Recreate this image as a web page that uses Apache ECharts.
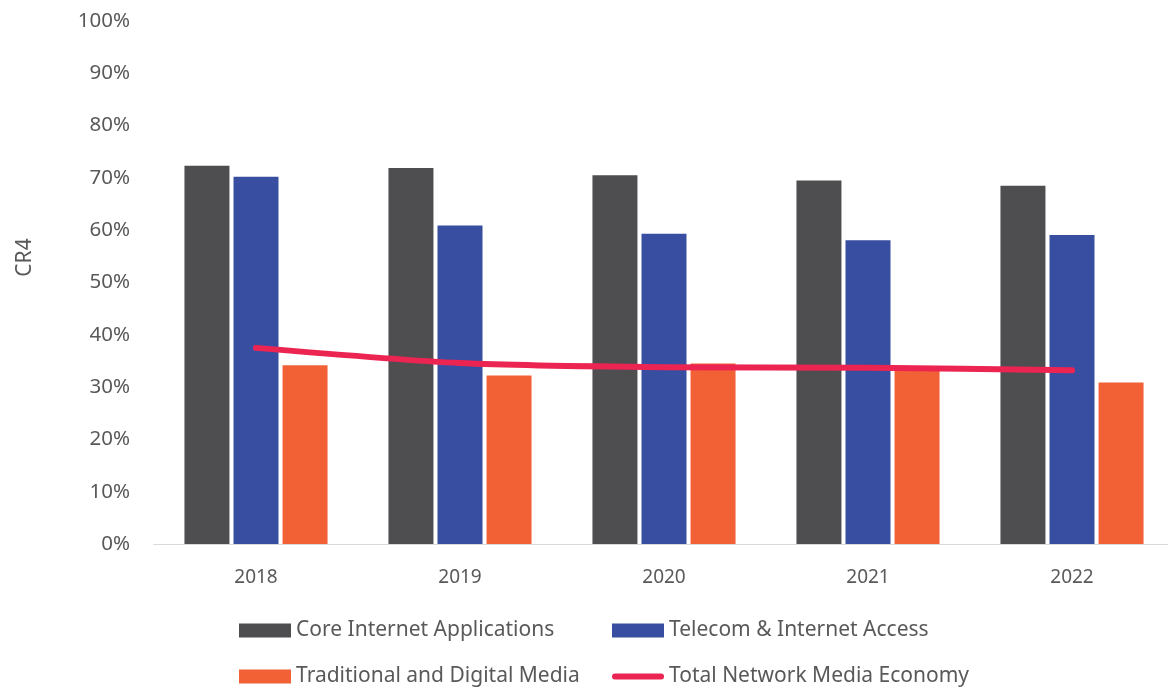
<!DOCTYPE html>
<html>
<head>
<meta charset="utf-8">
<script src="https://cdn.jsdelivr.net/npm/echarts@6/dist/echarts.min.js"></script>
<style>
  html, body { margin: 0; padding: 0; background: #ffffff; }
  #chart { width: 1168px; height: 689px; }
</style>
</head>
<body>
<div id="chart"></div>
<script>
// CR4 concentration ratios by sector, 2018-2022 (percent)
const years = ['2018', '2019', '2020', '2021', '2022'];
const coreInternet = [72.3, 71.9, 70.5, 69.5, 68.5];
const telecomAccess = [70.2, 60.9, 59.3, 58.1, 59.1];
const traditionalMedia = [34.2, 32.2, 34.5, 33.8, 30.9];
const totalEconomy = [37.5, 34.6, 33.8, 33.7, 33.2];
const yTicks = [0, 10, 20, 30, 40, 50, 60, 70, 80, 90, 100];

const FONT = 'Noto Sans';
const TEXT = '#595959';
const COLORS = {
  core: '#4e4e50',
  telecom: '#384ea0',
  media: '#f26136',
  total: '#ec2452'
};

const chart = echarts.init(document.getElementById('chart'), null, { renderer: 'canvas' });

const legendText = { fontFamily: FONT, fontSize: 21, color: TEXT };
const lineIcon = 'path://M3,0 H49 A3,3 0 0 1 49,6 H3 A3,3 0 0 1 3,0 Z';
const legendBase = { padding: 0, itemWidth: 52, itemHeight: 14, itemGap: 0, textStyle: legendText, selectedMode: false, icon: 'rect' };

const option = {
  backgroundColor: '#ffffff',
  animation: false,
  textStyle: { fontFamily: FONT },
  grid: { left: 154, top: 21, width: 1020, height: 523, containLabel: false, outerBoundsMode: 'none' },
  legend: [
    Object.assign({}, legendBase, { data: ['Core Internet Applications'], left: 239, top: 620 }),
    Object.assign({}, legendBase, { data: ['Telecom & Internet Access'], left: 612, top: 620 }),
    Object.assign({}, legendBase, { data: ['Traditional and Digital Media'], left: 239, top: 666 }),
    Object.assign({}, legendBase, { data: ['Total Network Media Economy'], left: 612, top: 666, itemHeight: 6, icon: lineIcon })
  ],
  xAxis: {
    type: 'category',
    data: years,
    axisLine: { show: true, lineStyle: { color: '#d9d9d9', width: 1 } },
    axisTick: { show: false },
    axisLabel: { color: TEXT, fontFamily: FONT, fontSize: 19, margin: 24 }
  },
  yAxis: {
    type: 'value',
    min: 0,
    max: 100,
    interval: 10,
    name: 'CR4',
    nameLocation: 'middle',
    nameGap: 118,
    nameRotate: 90,
    nameTextStyle: { color: TEXT, fontFamily: FONT, fontSize: 21, padding: [0, 0, 0, 50] },
    axisLine: { show: false },
    axisTick: { show: false },
    splitLine: { show: false },
    axisLabel: {
      color: TEXT,
      fontFamily: FONT,
      fontSize: 20.5,
      margin: 24,
      formatter: v => (yTicks.includes(v) ? v + '%' : '')
    }
  },
  series: [
    {
      name: 'Core Internet Applications',
      type: 'bar',
      data: coreInternet,
      barWidth: 45,
      barGap: '9%',
      itemStyle: { color: COLORS.core }
    },
    {
      name: 'Telecom & Internet Access',
      type: 'bar',
      data: telecomAccess,
      barWidth: 45,
      barGap: '9%',
      itemStyle: { color: COLORS.telecom }
    },
    {
      name: 'Traditional and Digital Media',
      type: 'bar',
      data: traditionalMedia,
      barWidth: 45,
      barGap: '9%',
      itemStyle: { color: COLORS.media }
    },
    {
      name: 'Total Network Media Economy',
      type: 'line',
      data: totalEconomy,
      smooth: 0.25,
      symbol: 'none',
      z: 5,
      lineStyle: { color: COLORS.total, width: 6, cap: 'round', join: 'round' },
      itemStyle: { color: COLORS.total }
    }
  ]
};

chart.setOption(option);
</script>
</body>
</html>
